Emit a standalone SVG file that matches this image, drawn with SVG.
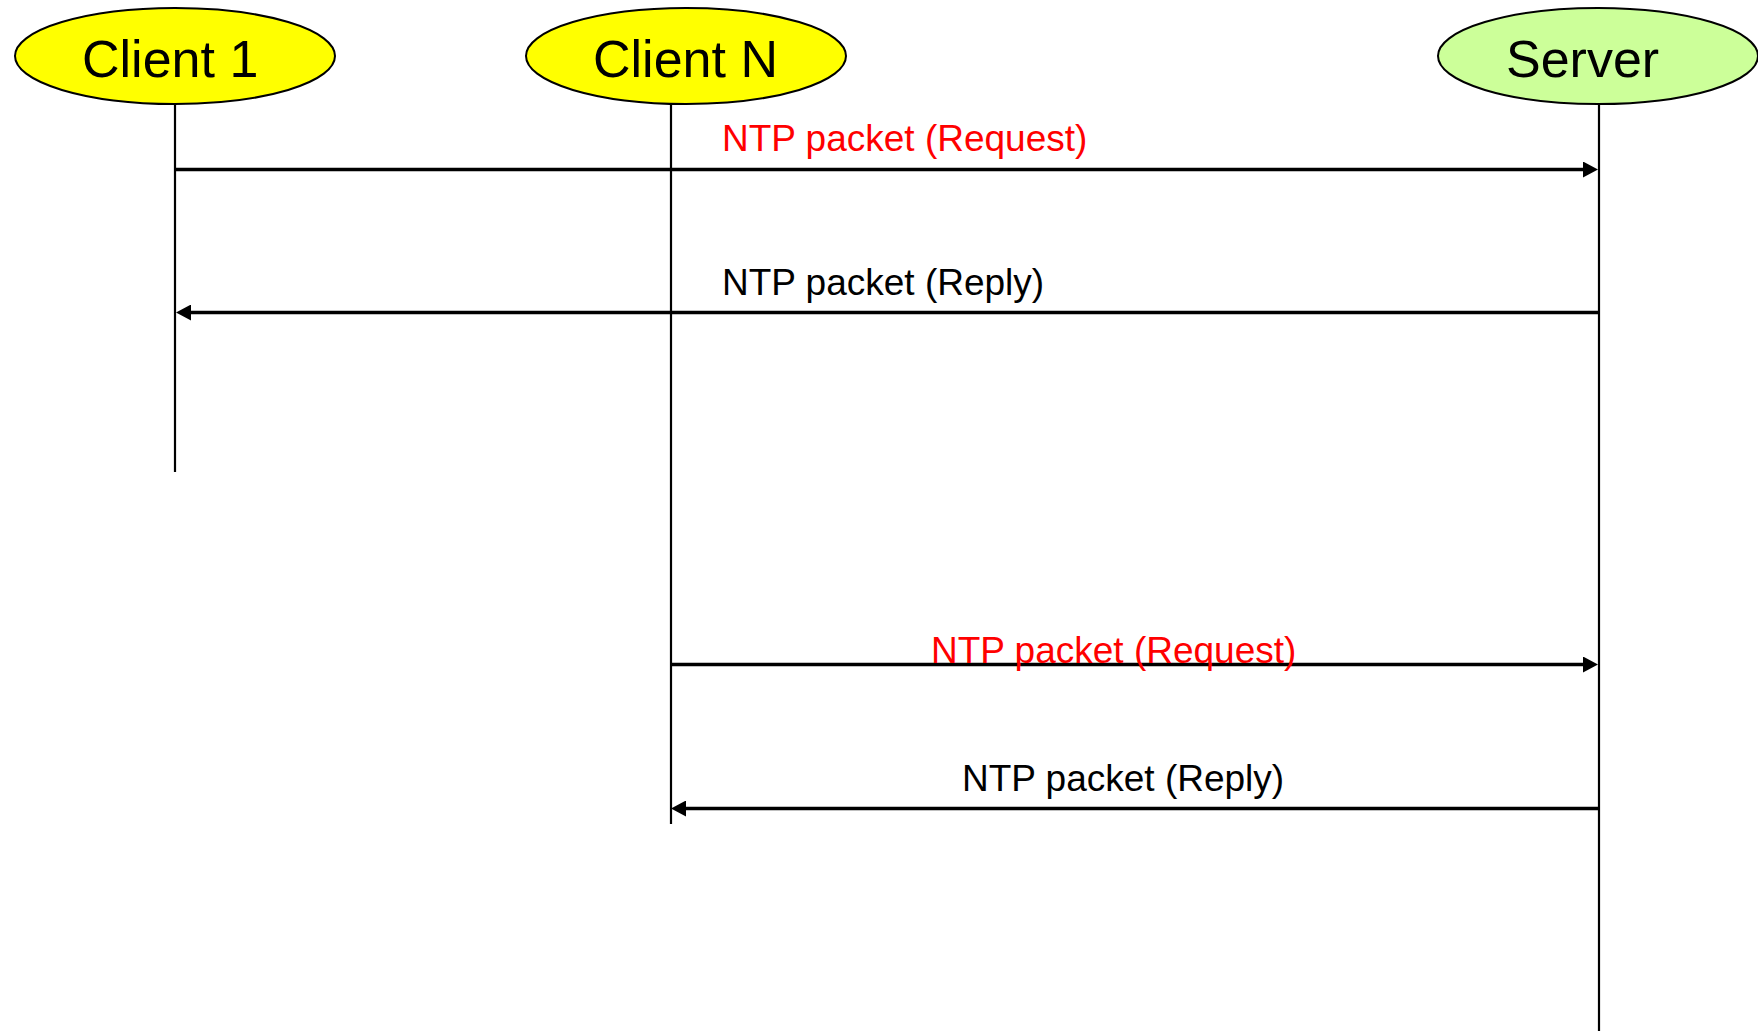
<svg xmlns="http://www.w3.org/2000/svg" width="1758" height="1031" viewBox="0 0 1758 1031">
<style>
.node ellipse{stroke:#000;stroke-width:2}
.title{font-family:"Liberation Sans",Arial,sans-serif;font-size:52px;fill:#000}
.life{stroke:#000;stroke-width:2.2;fill:none}
.msg{stroke:#000;stroke-width:3.5;fill:none;marker-end:url(#ah)}
.lbl{font-family:"Liberation Sans",Arial,sans-serif;font-size:37px}
.req{fill:#FF0000}
.rep{fill:#000}
</style>
<defs>
<marker id="ah" markerUnits="userSpaceOnUse" markerWidth="15" markerHeight="16" viewBox="0 0 15 16" refX="7" refY="8" orient="auto">
<path d="M0,0 L15,8 L0,16 z" fill="#000"/>
</marker>
</defs>
<rect width="1758" height="1031" fill="#fff"/>
<g id="connectors">
<line class="life" x1="175" y1="104" x2="175" y2="472"/>
<line class="life" x1="671" y1="104" x2="671" y2="824"/>
<line class="life" x1="1599" y1="104" x2="1599" y2="1031"/>
<line class="msg" x1="175" y1="169.5" x2="1590" y2="169.5"/>
<line class="msg" x1="1599" y1="312.5" x2="184" y2="312.5"/>
<line class="msg" x1="671" y1="664.5" x2="1590" y2="664.5"/>
<line class="msg" x1="1599" y1="808.5" x2="679" y2="808.5"/>
<text class="lbl req" x="722" y="151">NTP packet (Request)</text>
<text class="lbl rep" x="722" y="295">NTP packet (Reply)</text>
<text class="lbl req" x="931" y="663">NTP packet (Request)</text>
<text class="lbl rep" x="962" y="791">NTP packet (Reply)</text>
</g>
<g id="client1" class="node">
<ellipse cx="175" cy="56" rx="160" ry="48" fill="#FFFF00"/>
<text class="title" x="82" y="77">Client 1</text>
</g>
<g id="clientN" class="node">
<ellipse cx="686" cy="56" rx="160" ry="48" fill="#FFFF00"/>
<text class="title" x="593" y="77">Client N</text>
</g>
<g id="server" class="node">
<ellipse cx="1598" cy="56" rx="160" ry="48" fill="#CCFF99"/>
<text class="title" x="1506" y="77">Server</text>
</g>
</svg>
